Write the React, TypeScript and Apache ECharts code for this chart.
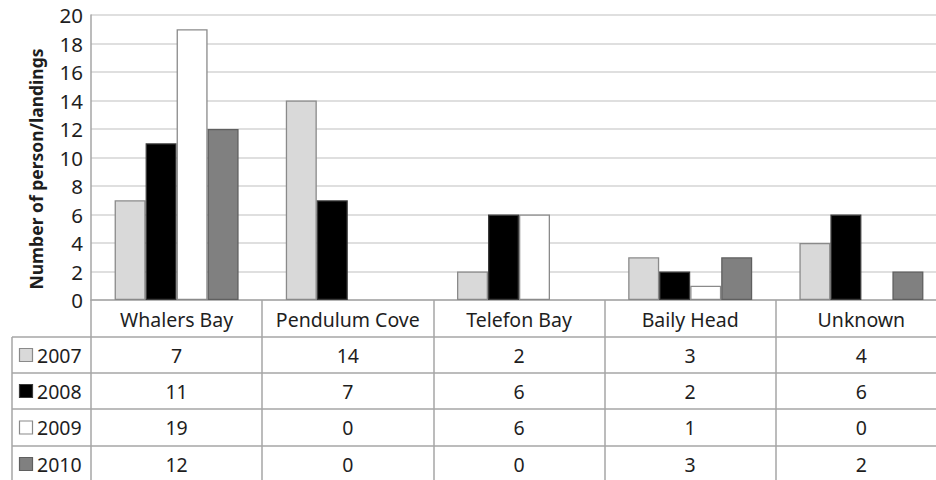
import React, { useEffect, useRef } from "react";
import * as echarts from "echarts";

const categories = ["Whalers Bay", "Pendulum Cove", "Telefon Bay", "Baily Head", "Unknown"];
const years = ["2007", "2008", "2009", "2010"];
const values2007 = [7, 14, 2, 3, 4];
const values2008 = [11, 7, 6, 2, 6];
const values2009 = [19, 0, 6, 1, 0];
const values2010 = [12, 0, 0, 3, 2];
const seriesValues = [values2007, values2008, values2009, values2010];
const yMin = 0;
const yMax = 20;
const yInterval = 2;
const yTitle = "Number of person/landings";

const fills = ["#d9d9d9", "#000000", "#ffffff", "#808080"];
const borders = ["#8a8a8a", "#3a3a3a", "#8a8a8a", "#5f5f5f"];
const FONT = "Noto Sans";
const TEXT = "#1e1e1e";
const LINE = "#a6a6a6";

export default function App() {
  const ref = useRef<HTMLDivElement>(null);
  useEffect(() => {
    if (!ref.current) return;
    const chart = echarts.init(ref.current, null, { renderer: "svg" });
    const gridTop = 15;
    const gridBottomY = 300;
    chart.setOption({
      animation: false,
      backgroundColor: "#ffffff",
      grid: { left: 91, top: gridTop, width: 856, height: gridBottomY - gridTop, containLabel: false },
      xAxis: {
        type: "category",
        data: categories,
        axisLine: { show: true, lineStyle: { color: LINE, width: 1.5 } },
        axisTick: { show: true, length: 185, lineStyle: { color: LINE, width: 1.5 } },
        axisLabel: {
          interval: 0,
          margin: 7,
          fontFamily: FONT,
          fontSize: 19.5,
          color: TEXT,
          lineHeight: 24,
        },
      },
      yAxis: {
        type: "value",
        min: yMin,
        max: yMax,
        interval: yInterval,
        axisLine: { show: true, lineStyle: { color: LINE, width: 1.5 } },
        axisTick: { show: false },
        splitLine: { lineStyle: { color: "#d4d4d4", width: 1.5 } },
        axisLabel: { fontFamily: FONT, fontSize: 20.5, color: TEXT, margin: 8 },
      },
      series: years.map((y, i) => ({
        name: y,
        type: "bar",
        data: seriesValues[i].map((v) => ({
          value: v,
          itemStyle: { borderWidth: v === 0 ? 0 : 1.3 },
        })),
        barWidth: 31,
        barGap: "0%",
        itemStyle: { color: fills[i], borderColor: borders[i], borderWidth: 1.3 },
      })),
    });

    const rowLines = [337, 373, 409, 446];
    const rowCenters = [355, 391, 427.5, 464];
    const graphics: any[] = [];
    graphics.push({
      type: "text",
      x: 36,
      y: 169,
      rotation: Math.PI / 2,
      style: {
        text: yTitle,
        fontFamily: FONT,
        fontSize: 17.5,
        fontWeight: "bold",
        fill: TEXT,
        align: "center",
        verticalAlign: "middle",
      },
    });
    rowLines.forEach((y) => {
      graphics.push({
        type: "line",
        shape: { x1: 12, y1: y, x2: 950, y2: y },
        style: { stroke: LINE, lineWidth: 1.5 },
      });
    });
    graphics.push({
      type: "line",
      shape: { x1: 12, y1: 337, x2: 12, y2: 480 },
      style: { stroke: LINE, lineWidth: 1.5 },
    });
    years.forEach((yr, r) => {
      const cy = rowCenters[r];
      graphics.push({
        type: "rect",
        shape: { x: 19.5, y: cy - 6.5, width: 13, height: 13 },
        style: { fill: fills[r], stroke: borders[r], lineWidth: 1.2 },
      });
      graphics.push({
        type: "text",
        x: 37,
        y: cy,
        style: { text: yr, fontFamily: FONT, fontSize: 19.5, fill: TEXT, align: "left", verticalAlign: "middle" },
      });
      seriesValues[r].forEach((v, c) => {
        const px = chart.convertToPixel({ xAxisIndex: 0 }, categories[c]) as number;
        graphics.push({
          type: "text",
          x: px,
          y: cy,
          style: { text: String(v), fontFamily: FONT, fontSize: 19.5, fill: TEXT, align: "center", verticalAlign: "middle" },
        });
      });
    });
    chart.setOption({ graphic: graphics });
    return () => chart.dispose();
  }, []);
  return (
    <div style={{ position: "absolute", left: 0, top: 0, width: 936, height: 480, overflow: "hidden" }}>
      <div ref={ref} style={{ width: 960, height: 480 }} />
    </div>
  );
}
